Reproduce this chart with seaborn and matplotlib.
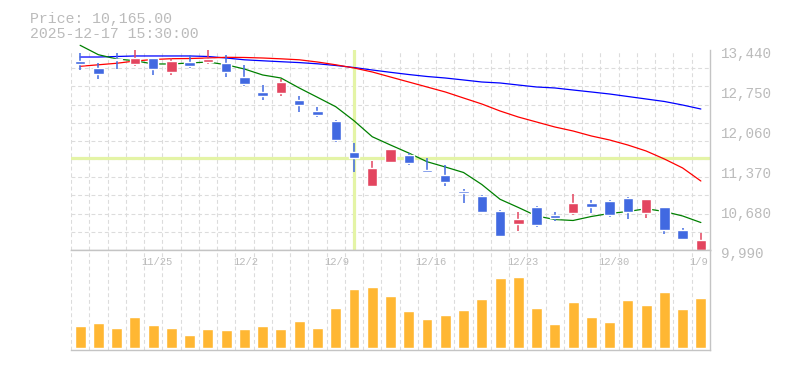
import numpy as np
import pandas as pd
import matplotlib
matplotlib.use('Agg')
import matplotlib.pyplot as plt
import matplotlib.transforms as mtransforms
import seaborn as sns

# ----------------------------------------------------------------------------------------------------------------------
# Data
# ----------------------------------------------------------------------------------------------------------------------

dates = ['11/18', '11/19', '11/20', '11/21', '11/25', '11/26', '11/27', '11/28',
         '12/1', '12/2', '12/3', '12/4', '12/5', '12/8', '12/9', '12/10', '12/11', '12/12',
         '12/15', '12/16', '12/17', '12/18', '12/19', '12/22', '12/23', '12/24', '12/25', '12/26',
         '12/29', '12/30', '1/5', '1/6', '1/7', '1/8', '1/9']

opens = [13250, 13130, 13285, 13204, 13302, 13066, 13233, 13233, 13216, 12974, 12716, 12703,
         12578, 12388, 12215, 11681, 11094, 11508, 11629, 11370, 11284, 11013, 10922, 10663,
         10444, 10732, 10599, 10628, 10801, 10835, 10887, 10636, 10732, 10335, 9995]
highs = [13383, 13211, 13383, 13440, 13302, 13297, 13354, 13440, 13354, 13176, 12831, 12940,
         12647, 12457, 12232, 11836, 11530, 11737, 11658, 11577, 11451, 11037, 10939, 10680,
         10646, 10754, 10646, 10956, 10853, 10853, 10904, 10870, 10732, 10370, 10283]
lows = [13100, 12945, 13117, 13169, 13014, 13014, 13135, 13204, 12979, 12824, 12583, 12652,
        12376, 12289, 11853, 11336, 11094, 11496, 11461, 11326, 11102, 10806, 10634, 10237,
        10323, 10392, 10485, 10599, 10634, 10564, 10532, 10550, 10272, 10168, 9990]
closes = [13204, 13031, 13268, 13302, 13117, 13250, 13169, 13285, 13066, 12859, 12652, 12888,
          12496, 12324, 11888, 11577, 11410, 11732, 11496, 11336, 11169, 10979, 10646, 10237,
          10525, 10429, 10550, 10801, 10737, 10599, 10651, 10870, 10341, 10187, 10165]

# volume (millions of shares)
volumes = [2.2, 2.5, 2.0, 3.1, 2.3, 2.0, 1.3, 1.9, 1.8, 1.9, 2.2, 1.9, 2.7, 2.0, 4.0, 5.9, 6.1, 5.2,
           3.7, 2.9, 3.3, 3.8, 4.9, 7.0, 7.1, 4.0, 2.4, 4.6, 3.1, 2.6, 4.8, 4.3, 5.6, 3.9, 5.0]

ma_short = [13521, 13359, 13285, 13255, 13199, 13199, 13216, 13233, 13186, 13112, 13009, 12957,
            12785, 12624, 12462, 12220, 11944, 11801, 11663, 11513, 11422, 11327, 11120, 10865,
            10724, 10577, 10516, 10499, 10568, 10620, 10654, 10702, 10654, 10577, 10464]
ma_mid = [13159, 13185, 13211, 13250, 13276, 13290, 13293, 13302, 13314, 13311, 13302, 13288,
          13271, 13233, 13185, 13130, 13061, 12974, 12888, 12802, 12716, 12612, 12509, 12388,
          12284, 12198, 12112, 12043, 11957, 11888, 11801, 11698, 11560, 11405, 11180]
ma_long = [13319, 13319, 13328, 13337, 13337, 13337, 13337, 13328, 13302, 13271, 13254, 13238,
           13223, 13202, 13173, 13138, 13095, 13055, 13017, 12983, 12957, 12923, 12888, 12871,
           12836, 12802, 12785, 12750, 12716, 12681, 12638, 12595, 12552, 12491, 12422]

price_ticks = [13440, 12750, 12060, 11370, 10680, 9990]
labelled_dates = ['11/25', '12/2', '12/9', '12/16', '12/23', '12/30', '1/9']
cursor_date = '12/10'
cursor_price = 11582
header = ['Price: 10,165.00', '2025-12-17 15:30:00']

# ----------------------------------------------------------------------------------------------------------------------
# Plot
# ----------------------------------------------------------------------------------------------------------------------

sns.set_style('white')
plt.rcParams['font.family'] = ['Liberation Mono', 'DejaVu Sans Mono']

up_color = '#e3455f'
down_color = '#4169e1'
text_color = '#bbbbbb'
grid_kw = dict(color='#dcdcdc', linestyle=(0, (3.5, 2.5)), linewidth=0.8)

df = pd.DataFrame({'date': dates, 'open': opens, 'high': highs, 'low': lows,
                   'close': closes, 'volume': volumes,
                   'ma_short': ma_short, 'ma_mid': ma_mid, 'ma_long': ma_long})
df['pos'] = np.arange(len(df))
n = len(df)

fig = plt.figure(figsize=(7.85, 3.7), dpi=100)
ax = fig.add_axes([71 / 785, 1 - 250 / 370, 639 / 785, 200 / 370])
ax_vol = fig.add_axes([71 / 785, 1 - 350 / 370, 639 / 785, 100 / 370])

# Grid on minor ticks (candle boundaries / 11 price steps)
for a in (ax, ax_vol):
    a.set_xlim(-0.5, n - 0.5)
    a.set_xticks(np.arange(-0.5, n - 0.5, 1), minor=True)
    a.set_xticks([])
    a.grid(False)
    a.grid(True, which='minor', axis='x', **grid_kw)
    a.tick_params(which='both', length=0)
    for side in ('top', 'right', 'bottom', 'left'):
        a.spines[side].set_color('#c4c4c4')
        a.spines[side].set_linewidth(1)
    a.spines['left'].set_visible(False)
    a.set_axisbelow(True)

ax.spines['top'].set_visible(False)
ax.set_ylim(price_ticks[-1], price_ticks[0])
ax.set_yticks(np.linspace(price_ticks[-1], price_ticks[0], 12), minor=True)
ax.grid(True, which='minor', axis='y', **grid_kw)

# Price labels on the right
ax.yaxis.tick_right()
ax.set_yticks(price_ticks)
ax.set_yticklabels(['{:,}'.format(v) for v in price_ticks])
ax.tick_params(axis='y', which='major', length=0, pad=7.7, labelsize=10.3, labelcolor=text_color)
shift_down = mtransforms.ScaledTranslation(0, -3 / 100, fig.dpi_scale_trans)
for lab in ax.get_yticklabels():
    lab.set_transform(lab.get_transform() + shift_down)

# Crosshair
cursor_pos = dates.index(cursor_date)
ax.axvline(cursor_pos, color='#e4f4a6', linewidth=2.3, zorder=1.5)
ax.axhline(cursor_price, color='#e4f4a6', linewidth=2.3, zorder=1.5)

# Moving averages
for col, color in [('ma_long', 'blue'), ('ma_mid', 'red'), ('ma_short', 'green')]:
    sns.lineplot(data=df, x='pos', y=col, ax=ax, color=color, linewidth=0.9, clip_on=False, zorder=2)

# Candles
colors = [up_color if c >= o else down_color for o, c in zip(df['open'], df['close'])]
body_bottom = np.minimum(df['open'], df['close'])
body_height = np.maximum(np.abs(df['close'] - df['open']), 18)
ax.vlines(df['pos'], df['low'], df['high'], colors=colors, linewidth=1.1, zorder=3)
ax.bar(df['pos'], body_height, bottom=body_bottom, width=0.57, color=colors, zorder=4)
ax.set_xlabel('')
ax.set_ylabel('')

# Volume
sns.barplot(data=df, x='pos', y='volume', ax=ax_vol, color='#ffb733', saturation=1,
            width=0.6, errorbar=None, native_scale=True, zorder=2)
ax_vol.set_xlim(-0.5, n - 0.5)
ax_vol.set_ylim(-0.2, 9.8)
ax_vol.set_yticks([])
ax_vol.set_xticks([])
ax_vol.set_xlabel('')
ax_vol.set_ylabel('')

date_trans = mtransforms.blended_transform_factory(ax_vol.transData, ax_vol.transAxes) + \
    mtransforms.ScaledTranslation(-11.5 / 100, 0, fig.dpi_scale_trans)
for d in labelled_dates:
    ax_vol.text(dates.index(d), 0.88, d, transform=date_trans, ha='left', va='center',
                fontsize=7.6, color=text_color)

# Header
fig.text(30 / 785, 1 - 23.3 / 370, header[0], ha='left', va='baseline', fontsize=10.7, color=text_color)
fig.text(30 / 785, 1 - 37.5 / 370, header[1], ha='left', va='baseline', fontsize=10.7, color=text_color)

fig.savefig('out.png', dpi=100)
